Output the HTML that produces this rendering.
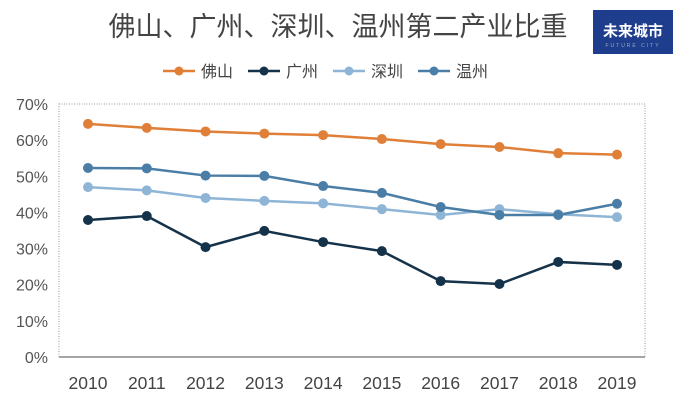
<!DOCTYPE html>
<html><head><meta charset="utf-8"><style>
body{margin:0;width:677px;height:400px;background:#fff;overflow:hidden;font-family:"Liberation Sans","Noto Sans CJK SC",sans-serif;}
</style></head><body>
<svg id="chart" width="677" height="400" style="position:absolute;left:0;top:0">
<text x="338" y="36" text-anchor="middle" font-size="27" fill="#444" font-family="Liberation Sans, Noto Sans CJK SC, sans-serif">佛山、广州、深圳、温州第二产业比重</text>
<g>
<rect x="593" y="10" width="80" height="44" fill="#1e3d8c"/>
<text x="633" y="36" text-anchor="middle" font-size="15" fill="#fff" font-weight="bold">未来城市</text>
<text x="633" y="47" text-anchor="middle" font-size="5" fill="#9ab" letter-spacing="2">FUTURE CITY</text>
</g>
<g id="legend"></g>
<g id="axes"></g>
<g id="marks"></g>
</svg>
<script>
const categories=["2010","2011","2012","2013","2014","2015","2016","2017","2018","2019"];
const seriesNames=["佛山","广州","深圳","温州"];
const foshan=[64.5,63.4,62.4,61.8,61.4,60.3,58.9,58.1,56.4,56.0];
const guangzhou=[37.9,39.0,30.4,34.9,31.8,29.3,21.0,20.2,26.3,25.5];
const shenzhen=[47.0,46.1,44.0,43.2,42.5,40.9,39.3,40.9,39.5,38.7];
const wenzhou=[52.3,52.2,50.2,50.1,47.3,45.4,41.5,39.3,39.3,42.4];
const yTicks=[0,10,20,30,40,50,60,70];
const colors=["#e07f38","#14324a","#8fb5d6","#4a7ea6"];
const NS="http://www.w3.org/2000/svg";
const L=59,R=645,T=104,B=357;
const x=i=>88+i*(617-88)/(categories.length-1);
const y=v=>B-(v/70)*(B-T);
function mk(tag,attrs,parent){const e=document.createElementNS(NS,tag);for(const k in attrs)e.setAttribute(k,attrs[k]);parent.appendChild(e);return e;}
const axes=document.getElementById('axes'),marks=document.getElementById('marks'),legend=document.getElementById('legend');
const frame=mk('rect',{x:L,y:T,width:R-L,height:B-T,fill:'none',stroke:'#999','stroke-dasharray':'1,1.5'},axes);


const base=mk('line',{x1:L,x2:R,y1:B,y2:B,stroke:'#888','stroke-width':1.5},axes);


yTicks.forEach(t=>{const e=mk('text',{x:48,y:y(t)+6,'text-anchor':'end','font-size':16,fill:'#555'},axes);e.textContent=t+'%';

});
categories.forEach((c,i)=>{const e=mk('text',{x:x(i),y:389,'text-anchor':'middle','font-size':17.5,fill:'#444'},axes);e.textContent=c;

});
[foshan,guangzhou,shenzhen,wenzhou].forEach((d,s)=>{
const g=mk('g',{},marks);


mk('polyline',{points:d.map((v,i)=>x(i)+','+y(v)).join(' '),fill:'none',stroke:colors[s],'stroke-width':2.5},g);
d.forEach((v,i)=>{const c=mk('circle',{cx:x(i),cy:y(v),r:5,fill:colors[s]},g);

});
});
const lx=[163,248,333,418];
seriesNames.forEach((n,s)=>{const g=mk('g',{},legend);


mk('line',{x1:lx[s],x2:lx[s]+32,y1:71,y2:71,stroke:colors[s],'stroke-width':2.5},g);
mk('circle',{cx:lx[s]+16,cy:71,r:4.5,fill:colors[s]},g);
const t=mk('text',{x:lx[s]+38,y:77,'font-size':16,fill:'#444'},g);t.textContent=n;});
</script>
</body></html>
